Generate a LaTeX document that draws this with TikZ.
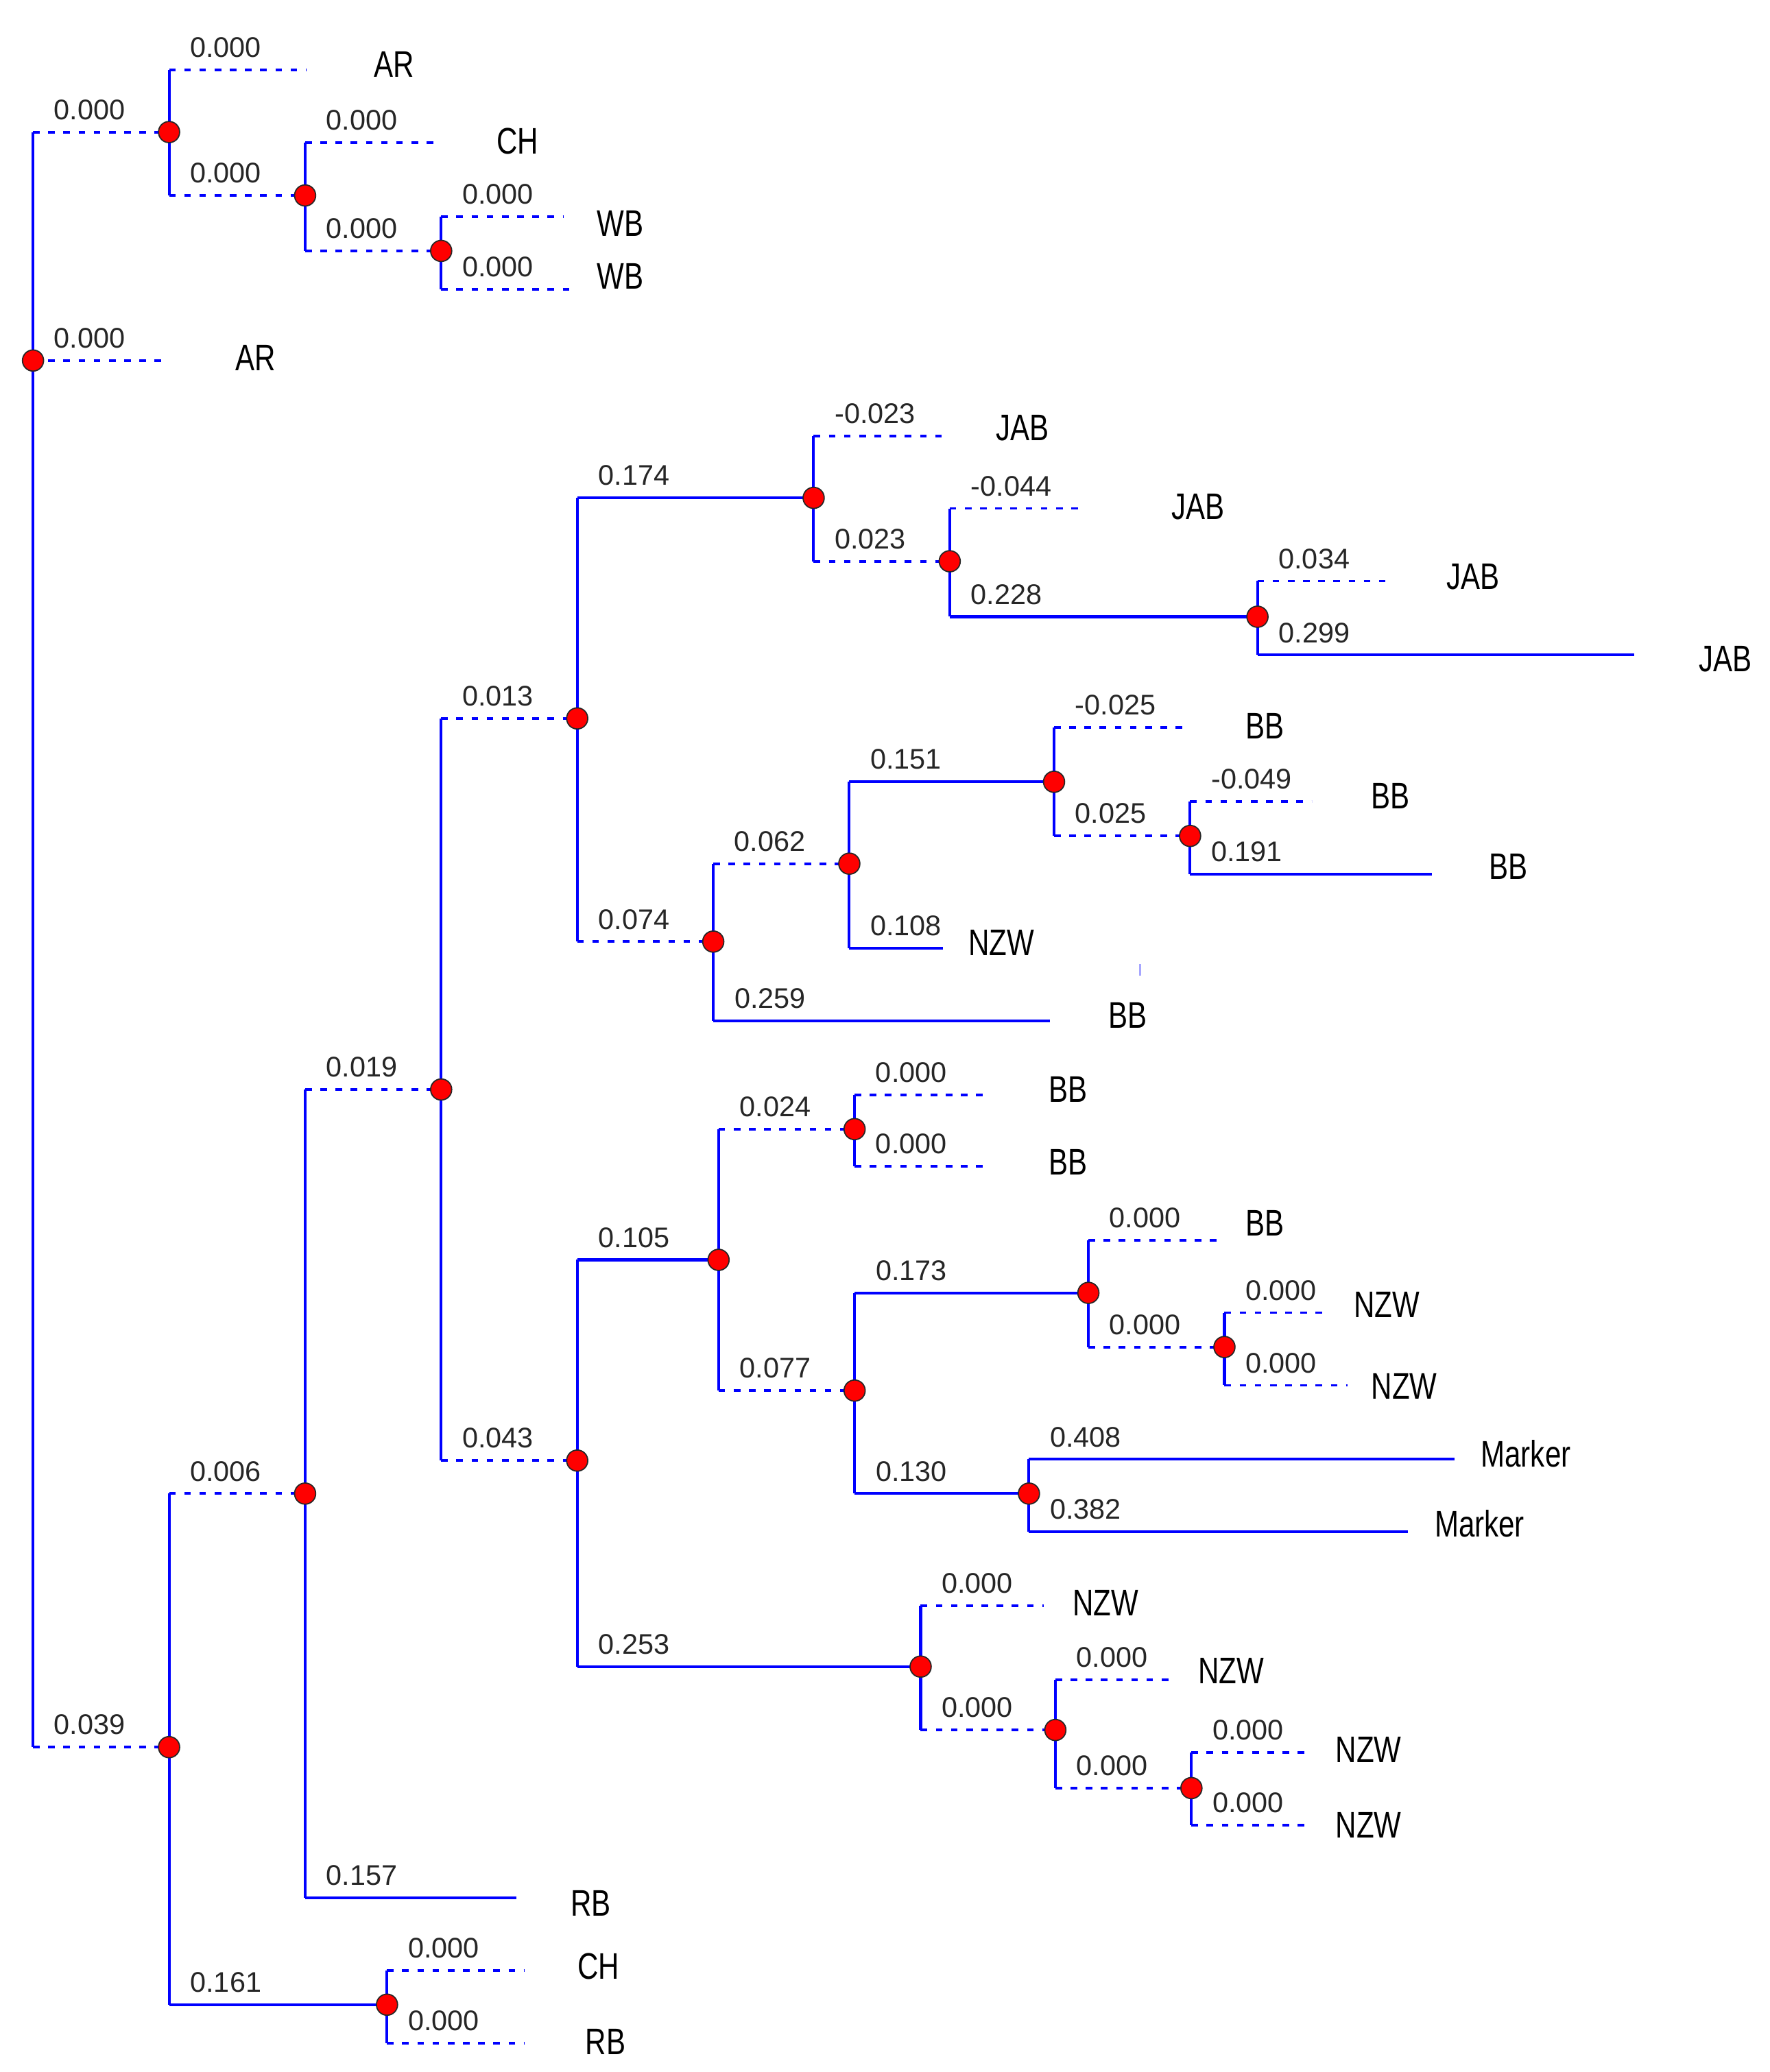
\documentclass[tikz,border=0pt]{standalone}
\usepackage{fontspec}
\setmainfont{Liberation Sans}
\newfontfamily\leaffont[FakeStretch=0.78]{Liberation Sans}
\usetikzlibrary{backgrounds}

\begin{document}
\begin{tikzpicture}[x=1pt, y=-1pt,
        junction/.style={circle, draw=black!85, fill=red, line width=0.9pt, minimum size=16pt, inner sep=0pt},
        vbar/.style={blue, line width=2.1pt},
        solidbr/.style={blue, line width=2.1pt},
        dashbr/.style={blue, line width=2pt, dash pattern=on 5pt off 6.5pt},
        brlen/.style={pos=0, anchor=base west, xshift=15pt, yshift=9.5pt, inner sep=0pt, text=black!85, font=\fontsize{21.5}{21.5}\selectfont},
        leaflabel/.style={anchor=west, inner sep=0pt, text=black, font=\leaffont\fontsize{28}{28}\selectfont}
    ]
    \useasboundingbox (0,0) rectangle (1340,1569);
    % Nodes
    \node[junction] (R) at (25,273) {};
    \node[junction] (A1) at (128,100) {};
    \node[junction] (A2) at (231,148) {};
    \node[junction] (A3) at (334,190) {};
    \node[junction] (B1) at (128,1323) {};
    \node[junction] (B2) at (231,1131) {};
    \node[junction] (B3) at (293,1518) {};
    \node[junction] (C1) at (334,825) {};
    \node[junction] (D1) at (437,544) {};
    \node[junction] (D2) at (616,377) {};
    \node[junction] (D3) at (719,425) {};
    \node[junction] (D4) at (952,467) {};
    \node[junction] (D5) at (540,713) {};
    \node[junction] (D6) at (643,654) {};
    \node[junction] (D7) at (798,592) {};
    \node[junction] (D8) at (901,633) {};
    \node[junction] (E1) at (437,1106) {};
    \node[junction] (E2) at (544,954) {};
    \node[junction] (E3) at (647,855) {};
    \node[junction] (E4) at (647,1053) {};
    \node[junction] (E5) at (824,979) {};
    \node[junction] (E6) at (779,1131) {};
    \node[junction] (E7) at (697,1262) {};
    \node[junction] (E8) at (927,1020) {};
    \node[junction] (E9) at (799,1310) {};
    \node[junction] (E10) at (902,1354) {};
    % Leaf ends
    \coordinate (tAR1) at (232,53);
    \coordinate (tAR2) at (128,273);
    \coordinate (tCH1) at (333,108);
    \coordinate (tWB1) at (427,164);
    \coordinate (tWB2) at (437,219);
    \coordinate (tCH2) at (397,1492);
    \coordinate (tRB2) at (397,1547);
    \coordinate (tRB1) at (391,1437);
    \coordinate (tJAB1) at (718,330);
    \coordinate (tJAB2) at (822,385);
    \coordinate (tJAB3) at (1055,440);
    \coordinate (tJAB4) at (1237,496);
    \coordinate (tBB1) at (899,551);
    \coordinate (tBB2) at (993,607);
    \coordinate (tBB3) at (1084,662);
    \coordinate (tBB4) at (795,773);
    \coordinate (tNZW1) at (714,718);
    \coordinate (tBB5) at (750,829);
    \coordinate (tBB6) at (750,883);
    \coordinate (tBB7) at (927,939);
    \coordinate (tNZW2) at (1005,994);
    \coordinate (tNZW3) at (1020,1049);
    \coordinate (tMK1) at (1101,1105);
    \coordinate (tMK2) at (1066,1160);
    \coordinate (tNZW4) at (790,1216);
    \coordinate (tNZW5) at (890,1272);
    \coordinate (tNZW6) at (993,1327);
    \coordinate (tNZW7) at (993,1382);
    % Leaf labels
    \node[leaflabel] (lAR1) at (283,49) {AR};
    \node[leaflabel] (lCH1) at (376,107) {CH};
    \node[leaflabel] (lWB1) at (452,169) {WB};
    \node[leaflabel] (lWB2) at (452,209) {WB};
    \node[leaflabel] (lAR2) at (178,271) {AR};
    \node[leaflabel] (lJAB1) at (754,324) {JAB};
    \node[leaflabel] (lJAB2) at (887,384) {JAB};
    \node[leaflabel] (lJAB3) at (1095,437) {JAB};
    \node[leaflabel] (lJAB4) at (1286,499) {JAB};
    \node[leaflabel] (lBB1) at (943,550) {BB};
    \node[leaflabel] (lBB2) at (1038,603) {BB};
    \node[leaflabel] (lBB3) at (1127,656) {BB};
    \node[leaflabel] (lNZW1) at (733,714) {NZW};
    \node[leaflabel] (lBB4) at (839,769) {BB};
    \node[leaflabel] (lBB5) at (794,825) {BB};
    \node[leaflabel] (lBB6) at (794,880) {BB};
    \node[leaflabel] (lBB7) at (943,926) {BB};
    \node[leaflabel] (lNZW2) at (1025,988) {NZW};
    \node[leaflabel] (lNZW3) at (1038,1050) {NZW};
    \node[leaflabel] (lMK1) at (1121,1101) {Marker};
    \node[leaflabel] (lMK2) at (1086,1154) {Marker};
    \node[leaflabel] (lNZW4) at (812,1214) {NZW};
    \node[leaflabel] (lNZW5) at (907,1265) {NZW};
    \node[leaflabel] (lNZW6) at (1011,1325) {NZW};
    \node[leaflabel] (lNZW7) at (1011,1382) {NZW};
    \node[leaflabel] (lRB1) at (432,1441) {RB};
    \node[leaflabel] (lCH2) at (437,1489) {CH};
    \node[leaflabel] (lRB2) at (443,1546) {RB};
    % Edges
    \begin{scope}[on background layer]
    % root
    \draw[vbar] (R |- A1) -- (R |- B1);
    \draw[dashbr] (R |- A1) -- node[brlen] {0.000} (A1.center);
    \draw[dashbr] (R.center) -- node[brlen] {0.000} (tAR2);
    \draw[dashbr] (R |- B1) -- node[brlen] {0.039} (B1.center);
    % A1
    \draw[vbar] (A1 |- tAR1) -- (A1 |- A2);
    \draw[dashbr] (A1 |- tAR1) -- node[brlen] {0.000} (tAR1);
    \draw[dashbr] (A1 |- A2) -- node[brlen] {0.000} (A2.center);
    % A2
    \draw[vbar] (A2 |- tCH1) -- (A2 |- A3);
    \draw[dashbr] (A2 |- tCH1) -- node[brlen] {0.000} (tCH1);
    \draw[dashbr] (A2 |- A3) -- node[brlen] {0.000} (A3.center);
    % A3
    \draw[vbar] (A3 |- tWB1) -- (A3 |- tWB2);
    \draw[dashbr] (A3 |- tWB1) -- node[brlen] {0.000} (tWB1);
    \draw[dashbr] (A3 |- tWB2) -- node[brlen] {0.000} (tWB2);
    % B1
    \draw[vbar] (B1 |- B2) -- (B1 |- B3);
    \draw[dashbr] (B1 |- B2) -- node[brlen] {0.006} (B2.center);
    \draw[solidbr] (B1 |- B3) -- node[brlen] {0.161} (B3.center);
    % B3
    \draw[vbar] (B3 |- tCH2) -- (B3 |- tRB2);
    \draw[dashbr] (B3 |- tCH2) -- node[brlen] {0.000} (tCH2);
    \draw[dashbr] (B3 |- tRB2) -- node[brlen] {0.000} (tRB2);
    % B2
    \draw[vbar] (B2 |- C1) -- (B2 |- tRB1);
    \draw[dashbr] (B2 |- C1) -- node[brlen] {0.019} (C1.center);
    \draw[solidbr] (B2 |- tRB1) -- node[brlen] {0.157} (tRB1);
    % C1
    \draw[vbar] (C1 |- D1) -- (C1 |- E1);
    \draw[dashbr] (C1 |- D1) -- node[brlen] {0.013} (D1.center);
    \draw[dashbr] (C1 |- E1) -- node[brlen] {0.043} (E1.center);
    % D1
    \draw[vbar] (D1 |- D2) -- (D1 |- D5);
    \draw[solidbr] (D1 |- D2) -- node[brlen] {0.174} (D2.center);
    \draw[dashbr] (D1 |- D5) -- node[brlen] {0.074} (D5.center);
    % D2
    \draw[vbar] (D2 |- tJAB1) -- (D2 |- D3);
    \draw[dashbr] (D2 |- tJAB1) -- node[brlen] {-0.023} (tJAB1);
    \draw[dashbr] (D2 |- D3) -- node[brlen] {0.023} (D3.center);
    % D3
    \draw[vbar] (D3 |- tJAB2) -- (D3 |- D4);
    \draw[dashbr] (D3 |- tJAB2) -- node[brlen] {-0.044} (tJAB2);
    \draw[solidbr] (D3 |- D4) -- node[brlen] {0.228} (D4.center);
    % D4
    \draw[vbar] (D4 |- tJAB3) -- (D4 |- tJAB4);
    \draw[dashbr] (D4 |- tJAB3) -- node[brlen] {0.034} (tJAB3);
    \draw[solidbr] (D4 |- tJAB4) -- node[brlen] {0.299} (tJAB4);
    % D5
    \draw[vbar] (D5 |- D6) -- (D5 |- tBB4);
    \draw[dashbr] (D5 |- D6) -- node[brlen] {0.062} (D6.center);
    \draw[solidbr] (D5 |- tBB4) -- node[brlen] {0.259} (tBB4);
    % D6
    \draw[vbar] (D6 |- D7) -- (D6 |- tNZW1);
    \draw[solidbr] (D6 |- D7) -- node[brlen] {0.151} (D7.center);
    \draw[solidbr] (D6 |- tNZW1) -- node[brlen] {0.108} (tNZW1);
    % D7
    \draw[vbar] (D7 |- tBB1) -- (D7 |- D8);
    \draw[dashbr] (D7 |- tBB1) -- node[brlen] {-0.025} (tBB1);
    \draw[dashbr] (D7 |- D8) -- node[brlen] {0.025} (D8.center);
    % D8
    \draw[vbar] (D8 |- tBB2) -- (D8 |- tBB3);
    \draw[dashbr] (D8 |- tBB2) -- node[brlen] {-0.049} (tBB2);
    \draw[solidbr] (D8 |- tBB3) -- node[brlen] {0.191} (tBB3);
    % E1
    \draw[vbar] (E1 |- E2) -- (E1 |- E7);
    \draw[solidbr] (E1 |- E2) -- node[brlen] {0.105} (E2.center);
    \draw[solidbr] (E1 |- E7) -- node[brlen] {0.253} (E7.center);
    % E2
    \draw[vbar] (E2 |- E3) -- (E2 |- E4);
    \draw[dashbr] (E2 |- E3) -- node[brlen] {0.024} (E3.center);
    \draw[dashbr] (E2 |- E4) -- node[brlen] {0.077} (E4.center);
    % E3
    \draw[vbar] (E3 |- tBB5) -- (E3 |- tBB6);
    \draw[dashbr] (E3 |- tBB5) -- node[brlen] {0.000} (tBB5);
    \draw[dashbr] (E3 |- tBB6) -- node[brlen] {0.000} (tBB6);
    % E4
    \draw[vbar] (E4 |- E5) -- (E4 |- E6);
    \draw[solidbr] (E4 |- E5) -- node[brlen] {0.173} (E5.center);
    \draw[solidbr] (E4 |- E6) -- node[brlen] {0.130} (E6.center);
    % E5
    \draw[vbar] (E5 |- tBB7) -- (E5 |- E8);
    \draw[dashbr] (E5 |- tBB7) -- node[brlen] {0.000} (tBB7);
    \draw[dashbr] (E5 |- E8) -- node[brlen] {0.000} (E8.center);
    % E8
    \draw[vbar] (E8 |- tNZW2) -- (E8 |- tNZW3);
    \draw[dashbr] (E8 |- tNZW2) -- node[brlen] {0.000} (tNZW2);
    \draw[dashbr] (E8 |- tNZW3) -- node[brlen] {0.000} (tNZW3);
    % E6
    \draw[vbar] (E6 |- tMK1) -- (E6 |- tMK2);
    \draw[solidbr] (E6 |- tMK1) -- node[brlen] {0.408} (tMK1);
    \draw[solidbr] (E6 |- tMK2) -- node[brlen] {0.382} (tMK2);
    % E7
    \draw[vbar] (E7 |- tNZW4) -- (E7 |- E9);
    \draw[dashbr] (E7 |- tNZW4) -- node[brlen] {0.000} (tNZW4);
    \draw[dashbr] (E7 |- E9) -- node[brlen] {0.000} (E9.center);
    % E9
    \draw[vbar] (E9 |- tNZW5) -- (E9 |- E10);
    \draw[dashbr] (E9 |- tNZW5) -- node[brlen] {0.000} (tNZW5);
    \draw[dashbr] (E9 |- E10) -- node[brlen] {0.000} (E10.center);
    % E10
    \draw[vbar] (E10 |- tNZW6) -- (E10 |- tNZW7);
    \draw[dashbr] (E10 |- tNZW6) -- node[brlen] {0.000} (tNZW6);
    \draw[dashbr] (E10 |- tNZW7) -- node[brlen] {0.000} (tNZW7);
    % stray tick
    \draw[blue!35, line width=1.5pt] (863,730) -- (863,739);
    \end{scope}
\end{tikzpicture}
\end{document}
